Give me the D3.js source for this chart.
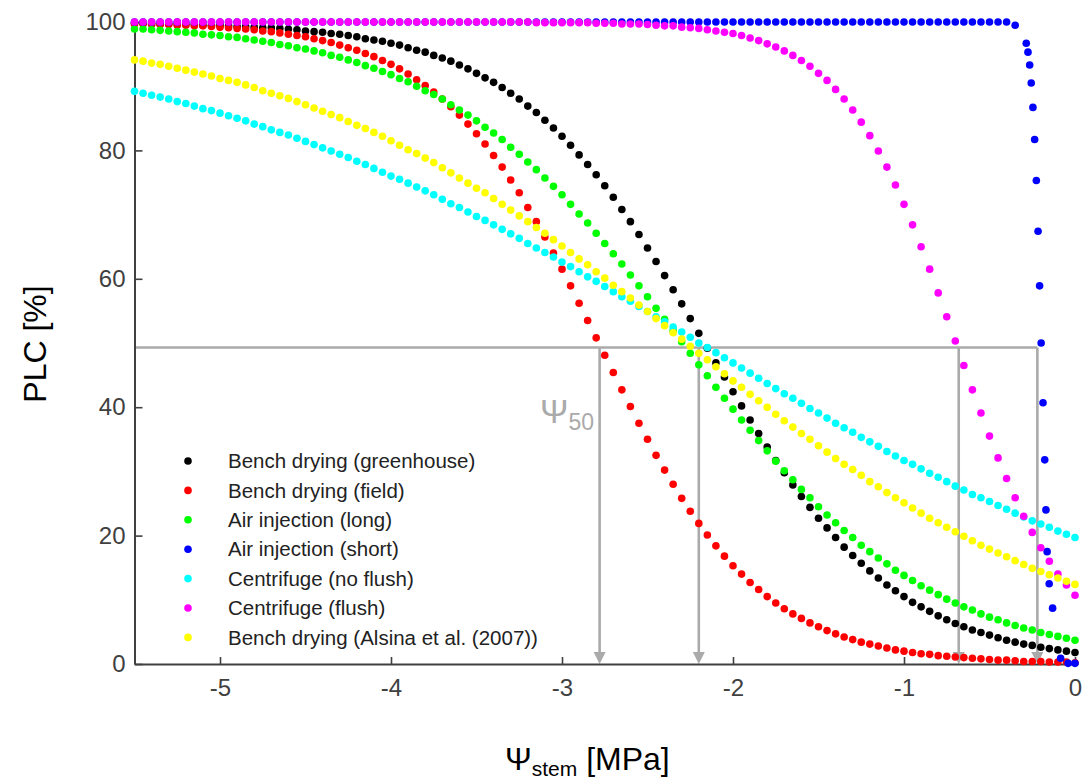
<!DOCTYPE html>
<html>
<head>
<meta charset="utf-8">
<script src="https://cdn.jsdelivr.net/npm/d3@7"></script>
<style>
body { margin: 0; background: #fff; }
svg { display: block; font-family: "Liberation Sans", Arial, sans-serif; }
</style>
</head>
<body>
<div class="chart"></div>
<script>
// stem water potential (MPa), shared by most series
const psi = [
  -5.5,-5.45,-5.4,-5.35,-5.3,-5.25,-5.2,-5.15,-5.1,-5.05,
  -5,-4.95,-4.9,-4.85,-4.8,-4.75,-4.7,-4.65,-4.6,-4.55,
  -4.5,-4.45,-4.4,-4.35,-4.3,-4.25,-4.2,-4.15,-4.1,-4.05,
  -4,-3.95,-3.9,-3.85,-3.8,-3.75,-3.7,-3.65,-3.6,-3.55,
  -3.5,-3.45,-3.4,-3.35,-3.3,-3.25,-3.2,-3.15,-3.1,-3.05,
  -3,-2.95,-2.9,-2.85,-2.8,-2.75,-2.7,-2.65,-2.6,-2.55,
  -2.5,-2.45,-2.4,-2.35,-2.3,-2.25,-2.2,-2.15,-2.1,-2.05,
  -2,-1.95,-1.9,-1.85,-1.8,-1.75,-1.7,-1.65,-1.6,-1.55,
  -1.5,-1.45,-1.4,-1.35,-1.3,-1.25,-1.2,-1.15,-1.1,-1.05,
  -1,-0.95,-0.9,-0.85,-0.8,-0.75,-0.7,-0.65,-0.6,-0.55,
  -0.5,-0.45,-0.4,-0.35,-0.3,-0.25,-0.2,-0.15,-0.1,-0.05,
  0];

// PLC (%) per method
const plcGreenhouse = [
  99.8,99.8,99.7,99.7,99.7,99.7,99.6,99.6,99.5,99.5,
  99.5,99.4,99.3,99.3,99.2,99.1,99.1,99.0,98.9,98.8,
  98.6,98.5,98.4,98.2,98.1,97.9,97.7,97.4,97.2,97.0,
  96.7,96.4,96.0,95.6,95.3,94.8,94.4,93.9,93.3,92.7,
  92.0,91.3,90.6,89.8,88.9,88.0,86.9,85.9,84.7,83.5,
  82.2,80.8,79.3,77.8,76.2,74.5,72.7,70.8,68.9,66.9,
  64.8,62.7,60.5,58.3,56.1,53.8,51.5,49.2,46.9,44.7,
  42.4,40.2,38.0,35.9,33.8,31.7,29.8,27.9,26.1,24.4,
  22.7,21.2,19.7,18.2,16.9,15.7,14.5,13.4,12.3,11.4,
  10.5,9.6,8.9,8.2,7.5,6.9,6.3,5.8,5.3,4.9,
  4.5,4.1,3.7,3.4,3.1,2.9,2.6,2.4,2.2,2.0,
  1.8];

const plcField = [
  99.7,99.7,99.7,99.6,99.6,99.5,99.5,99.4,99.4,99.3,
  99.2,99.1,99.0,98.9,98.8,98.6,98.5,98.3,98.1,97.9,
  97.7,97.4,97.1,96.8,96.4,96.0,95.6,95.1,94.6,94.0,
  93.4,92.7,91.9,91.0,90.1,89.1,88.0,86.8,85.5,84.1,
  82.6,81.0,79.2,77.4,75.4,73.4,71.1,68.9,66.5,64.0,
  61.5,58.9,56.2,53.5,50.8,48.1,45.4,42.7,40.1,37.5,
  35.0,32.5,30.2,28.0,25.8,23.8,21.9,20.1,18.4,16.8,
  15.3,14.0,12.7,11.6,10.5,9.5,8.6,7.8,7.1,6.4,
  5.8,5.2,4.7,4.2,3.8,3.4,3.1,2.8,2.5,2.2,
  2.0,1.8,1.6,1.5,1.3,1.2,1.1,1.0,0.9,0.8,
  0.7,0.6,0.6,0.5,0.4,0.4,0.4,0.3,0.3,0.3,
  0.2];

const plcAirLong = [
  98.9,98.9,98.8,98.7,98.6,98.5,98.4,98.3,98.1,98.0,
  97.9,97.7,97.6,97.4,97.2,97.0,96.8,96.5,96.3,96.0,
  95.8,95.5,95.2,94.8,94.5,94.1,93.7,93.2,92.8,92.3,
  91.8,91.2,90.7,90.0,89.3,88.7,88.0,87.1,86.3,85.5,
  84.6,83.6,82.7,81.7,80.5,79.4,78.2,77.0,75.7,74.4,
  73.1,71.6,70.1,68.7,67.1,65.5,63.9,62.3,60.6,58.9,
  57.2,55.4,53.7,51.9,50.2,48.4,46.6,44.9,43.1,41.4,
  39.7,38.0,36.4,34.8,33.2,31.6,30.1,28.7,27.2,25.9,
  24.5,23.2,22.0,20.8,19.7,18.5,17.5,16.5,15.6,14.6,
  13.8,13.0,12.2,11.5,10.8,10.1,9.5,8.9,8.4,7.8,
  7.3,6.9,6.4,6.0,5.6,5.3,4.9,4.6,4.3,4.0,
  3.7];

// air injection (short): coarse part on psi grid, then a dense tail
const plcAirShort = [
  100,100,100,100,100,100,100,100,100,100,
  100,100,100,100,100,100,100,100,100,100,
  100,100,100,100,100,100,100,100,100,100,
  100,100,100,100,100,100,100,100,100,100,
  100,100,100,100,100,100,100,100,100,100,
  100,100,100,100,100,100,100,100,100,100,
  100,100,100,100,100,100,100,100,100,100,
  100,100,100,100,100,100,100,100,100,100,
  100,100,100,100,100,100,100,100,100,100,
  100,100,100,100,100,100,100,100,100,100,
  100,100,100,99.5];
const shortTailPsi = [-0.285,-0.275,-0.265,-0.256,-0.246,-0.236,-0.226,-0.216,-0.207,-0.198,
  -0.187,-0.177,-0.17,-0.163,-0.151,-0.131,-0.084,-0.04,0];
const shortTailPlc = [96.7,95.3,93.3,90.5,86.7,81.7,75.3,67.4,58.9,50.0,
  40.7,31.8,24.0,17.5,12.5,8.7,0.9,0.1,0.1];

const plcNoFlush = [
  89.2,88.9,88.6,88.3,88.0,87.6,87.3,86.9,86.5,86.2,
  85.8,85.4,85.0,84.6,84.1,83.7,83.2,82.8,82.4,81.9,
  81.4,80.9,80.4,79.9,79.4,78.9,78.3,77.8,77.2,76.6,
  76.0,75.5,74.9,74.3,73.7,73.1,72.4,71.7,71.1,70.4,
  69.7,69.1,68.4,67.7,67.0,66.3,65.5,64.8,64.1,63.4,
  62.6,61.9,61.1,60.3,59.6,58.8,58.0,57.2,56.5,55.7,
  54.9,54.1,53.3,52.5,51.7,50.9,50.0,49.3,48.5,47.7,
  46.9,46.1,45.3,44.5,43.7,42.9,42.1,41.4,40.6,39.8,
  39.1,38.3,37.5,36.8,36.1,35.3,34.6,33.9,33.1,32.4,
  31.7,31.1,30.4,29.7,29.1,28.4,27.7,27.1,26.4,25.9,
  25.3,24.7,24.1,23.5,22.9,22.3,21.8,21.3,20.7,20.2,
  19.7];

const plcFlush = [
  100,100,100,100,100,100,100,100,100,100,
  100,100,100,100,100,100,100,100,100,100,
  100,100,100,100,100,100,100,100,100,100,
  100,100,100,100,100,100,100,100,100,100,
  100,100,100,100,100,100,100,99.9,99.9,99.9,
  99.9,99.9,99.9,99.9,99.8,99.8,99.8,99.7,99.7,99.7,
  99.6,99.5,99.4,99.4,99.2,99.1,99.0,98.8,98.6,98.4,
  98.2,97.9,97.5,97.1,96.6,96.1,95.5,94.8,94.0,93.1,
  92.0,90.9,89.5,88.0,86.3,84.4,82.3,79.9,77.4,74.6,
  71.6,68.4,65.0,61.5,57.8,54.1,50.3,46.5,42.7,39.1,
  35.5,32.1,28.9,25.9,23.0,20.5,18.1,16.0,14.0,12.3,
  10.7];

const plcAlsina = [
  94.1,93.9,93.6,93.4,93.1,92.8,92.5,92.2,91.9,91.6,
  91.2,90.9,90.6,90.2,89.8,89.3,88.9,88.5,88.1,87.6,
  87.1,86.6,86.1,85.6,85.1,84.5,83.9,83.4,82.8,82.2,
  81.5,80.8,80.1,79.5,78.8,78.1,77.3,76.5,75.7,74.9,
  74.1,73.4,72.5,71.6,70.7,69.8,68.9,68.0,67.1,66.1,
  65.1,64.1,63.1,62.2,61.1,60.1,59.0,58.0,57.0,55.9,
  54.9,53.8,52.7,51.6,50.6,49.5,48.4,47.4,46.3,45.2,
  44.1,43.1,42.0,41.0,40.0,38.9,37.9,36.9,35.9,35.0,
  34.0,33.0,32.0,31.1,30.3,29.4,28.4,27.6,26.7,25.9,
  25.1,24.3,23.5,22.7,22.0,21.3,20.6,19.9,19.2,18.5,
  17.9,17.3,16.7,16.1,15.5,14.9,14.4,13.9,13.4,12.9,
  12.4];

const labels = ["Bench drying (greenhouse)", "Bench drying (field)", "Air injection (long)",
  "Air injection (short)", "Centrifuge (no flush)", "Centrifuge (flush)",
  "Bench drying (Alsina et al. (2007))"];
const colors = ["#000000", "#ff0000", "#00ff00", "#0000ff", "#00ffff", "#ff00ff", "#ffff00"];

// psi50 markers
const p50Psi = [-2.78, -2.2, -0.68, -0.22];
const p50Level = 49.3;

const xTicks = [-5, -4, -3, -2, -1, 0];
const yTicks = [0, 20, 40, 60, 80, 100];

const zip = (xs, ys) => xs.map((v, i) => ({ x: v, y: ys[i] }));

const series = [
  zip(psi, plcGreenhouse),
  zip(psi, plcField),
  zip(psi, plcAirLong),
  zip(psi.slice(0, plcAirShort.length), plcAirShort).concat(zip(shortTailPsi, shortTailPlc)),
  zip(psi, plcNoFlush),
  zip(psi, plcFlush),
  zip(psi, plcAlsina)
];

const svg = d3.select(".chart").append("svg")
  .attr("width", 1083)
  .attr("height", 780);

const x = d3.scaleLinear().domain([-5.5, 0]).range([134.5, 1075]);
const y = d3.scaleLinear().domain([0, 100]).range([664, 22]);

const grey = "#aaaaaa";
const axisColor = "#404040";

// psi50 guide lines (under the dots)
const guide = svg.append("g");
guide.append("line")
  .attr("x1", x(-5.5)).attr("x2", x(d3.max(p50Psi)))
  .attr("y1", y(p50Level)).attr("y2", y(p50Level))
  .attr("stroke", grey).attr("stroke-width", 2.6);

guide.selectAll(".vline")
  .data(p50Psi)
  .enter().append("line")
  .attr("x1", d => x(d)).attr("x2", d => x(d))
  .attr("y1", y(p50Level)).attr("y2", y(0) - 10)
  .attr("stroke", grey).attr("stroke-width", 2.6);

guide.selectAll(".head")
  .data(p50Psi)
  .enter().append("path")
  .attr("d", d => `M${x(d) - 6},${y(0) - 12}L${x(d) + 6},${y(0) - 12}L${x(d)},${y(0)}Z`)
  .attr("fill", grey);

const p50Label = svg.append("text")
  .attr("x", 540).attr("y", 423)
  .attr("fill", grey);
p50Label.append("tspan").attr("font-size", 34).text("Ψ");
p50Label.append("tspan").attr("font-size", 23).attr("dy", 7).text("50");

// axes
const yAxis = svg.append("g")
  .attr("transform", `translate(${x(-5.5)},0)`)
  .call(d3.axisLeft(y).tickValues(yTicks).tickSize(-8).tickSizeOuter(0).tickPadding(9)
    .tickFormat(d => String(d)));

const xAxis = svg.append("g")
  .attr("transform", `translate(0,${y(0)})`)
  .call(d3.axisBottom(x).tickValues(xTicks).tickSize(-7).tickSizeOuter(0).tickPadding(15)
    .tickFormat(d => String(d)));

[yAxis, xAxis].forEach(a => {
  a.select(".domain").attr("stroke", axisColor).attr("stroke-width", 2);
  a.selectAll(".tick line").attr("stroke", axisColor).attr("stroke-width", 1.6);
  a.selectAll(".tick text").attr("fill", axisColor).attr("font-size", 24)
    .attr("font-family", "Liberation Sans, Arial, sans-serif");
});

// dots
series.forEach((pts, i) => {
  svg.append("g")
    .selectAll("circle")
    .data(pts)
    .enter().append("circle")
    .attr("cx", d => x(d.x))
    .attr("cy", d => y(Math.max(0, d.y)))
    .attr("r", 3.8)
    .attr("fill", colors[i]);
});

// legend
const legend = svg.append("g").attr("transform", "translate(188,461)");
labels.forEach((name, i) => {
  const row = legend.append("g").attr("transform", `translate(0,${i * 29.4})`);
  row.append("circle").attr("r", 3.8).attr("fill", colors[i]);
  row.append("text")
    .attr("x", 40)
    .attr("dy", "0.35em")
    .attr("font-size", 20.5)
    .attr("fill", "#222")
    .text(name);
});

// axis titles
svg.append("text")
  .attr("transform", "translate(35,344) rotate(-90)")
  .attr("text-anchor", "middle")
  .attr("dy", "0.35em")
  .attr("font-size", 32)
  .attr("fill", "#000")
  .text("PLC [%]");

const xTitle = svg.append("text")
  .attr("x", 505).attr("y", 770)
  .attr("fill", "#000")
  .attr("font-size", 32);
xTitle.append("tspan").text("Ψ");
xTitle.append("tspan").attr("font-size", 21).attr("dy", 6).text("stem");
xTitle.append("tspan").attr("dy", -6).text(" [MPa]");
</script>
</body>
</html>
